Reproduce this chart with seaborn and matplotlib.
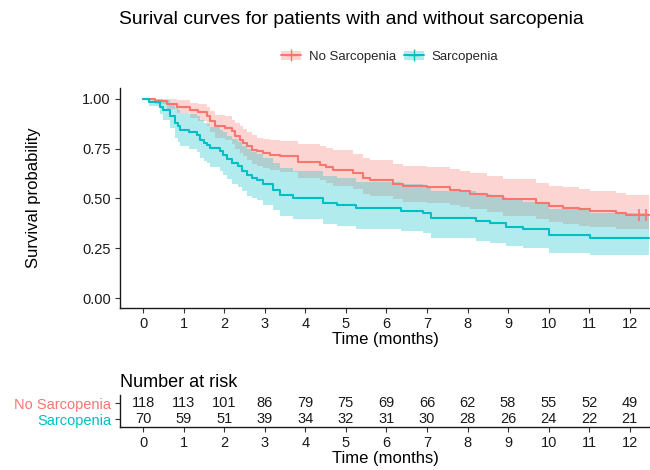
import numpy as np
import pandas as pd
import matplotlib.pyplot as plt
import seaborn as sns
from matplotlib.patches import Patch
from matplotlib.lines import Line2D

# Kaplan-Meier steps (time in months)
no_sarc_time = [0.00, 0.30, 0.58, 0.83, 1.16, 1.36, 1.57, 1.65, 1.77, 2.02, 2.18, 2.27,
                2.39, 2.47, 2.55, 2.68, 2.80, 2.96, 3.13, 3.37, 3.83, 4.36, 4.52, 4.68,
                5.18, 5.43, 5.59, 6.16, 6.41, 7.00, 7.56, 7.81, 8.05, 8.47, 8.87, 9.70,
                10.02, 10.35, 10.76, 11.01, 11.67, 11.91, 12.48]
no_sarc_surv = [1.000, 0.992, 0.975, 0.962, 0.945, 0.933, 0.912, 0.887, 0.862, 0.853, 0.837, 0.812,
                0.795, 0.778, 0.762, 0.745, 0.737, 0.728, 0.720, 0.712, 0.682, 0.670, 0.658, 0.645,
                0.628, 0.603, 0.595, 0.573, 0.562, 0.558, 0.545, 0.537, 0.525, 0.512, 0.495, 0.478,
                0.462, 0.453, 0.445, 0.437, 0.428, 0.415, 0.415]
no_sarc_lower = [1.000, 0.975, 0.948, 0.928, 0.905, 0.890, 0.862, 0.835, 0.805, 0.795, 0.775, 0.748,
                 0.730, 0.712, 0.695, 0.675, 0.662, 0.655, 0.645, 0.635, 0.605, 0.592, 0.580, 0.565,
                 0.548, 0.522, 0.512, 0.495, 0.484, 0.478, 0.465, 0.457, 0.445, 0.432, 0.412, 0.395,
                 0.380, 0.372, 0.363, 0.355, 0.348, 0.345, 0.345]
no_sarc_upper = [1.000, 1.000, 1.000, 0.995, 0.980, 0.975, 0.960, 0.940, 0.920, 0.912, 0.895, 0.880,
                 0.862, 0.848, 0.835, 0.820, 0.805, 0.800, 0.795, 0.790, 0.775, 0.762, 0.752, 0.742,
                 0.722, 0.702, 0.692, 0.675, 0.665, 0.660, 0.648, 0.640, 0.630, 0.615, 0.598, 0.580,
                 0.565, 0.557, 0.548, 0.540, 0.530, 0.520, 0.520]
no_sarc_censor = [12.24, 12.41]

sarc_time = [0.00, 0.15, 0.42, 0.50, 0.67, 0.79, 0.87, 0.91, 1.12, 1.32, 1.40, 1.49, 1.57,
             1.65, 1.90, 1.98, 2.08, 2.20, 2.33, 2.45, 2.55, 2.68, 2.82, 2.96, 3.21, 3.37,
             3.70, 4.44, 4.77, 5.26, 6.37, 6.90, 7.11, 8.22, 8.55, 8.96, 9.37, 10.02, 11.01, 12.48]
sarc_surv = [1.000, 0.985, 0.962, 0.945, 0.912, 0.878, 0.862, 0.845, 0.832, 0.820, 0.795, 0.778, 0.770,
             0.753, 0.737, 0.720, 0.700, 0.677, 0.662, 0.640, 0.620, 0.605, 0.595, 0.572, 0.545, 0.520,
             0.503, 0.478, 0.468, 0.450, 0.437, 0.428, 0.403, 0.387, 0.375, 0.358, 0.345, 0.315, 0.303, 0.303]
sarc_lower = [1.000, 0.965, 0.925, 0.895, 0.855, 0.805, 0.785, 0.765, 0.748, 0.735, 0.705, 0.690, 0.680,
              0.660, 0.640, 0.620, 0.600, 0.575, 0.560, 0.538, 0.515, 0.500, 0.490, 0.465, 0.440, 0.413,
              0.398, 0.373, 0.362, 0.345, 0.335, 0.325, 0.300, 0.288, 0.275, 0.262, 0.250, 0.225, 0.215, 0.215]
sarc_upper = [1.000, 1.000, 1.000, 0.995, 0.975, 0.955, 0.945, 0.930, 0.925, 0.915, 0.895, 0.880, 0.872,
              0.858, 0.845, 0.832, 0.815, 0.797, 0.782, 0.765, 0.748, 0.735, 0.725, 0.705, 0.680, 0.655,
              0.640, 0.612, 0.602, 0.585, 0.572, 0.562, 0.540, 0.522, 0.510, 0.495, 0.480, 0.445, 0.428, 0.428]

# Number at risk table
risk_times = [0, 1, 2, 3, 4, 5, 6, 7, 8, 9, 10, 11, 12]
risk_no_sarc = [118, 113, 101, 86, 79, 75, 69, 66, 62, 58, 55, 52, 49]
risk_sarc = [70, 59, 51, 39, 34, 32, 31, 30, 28, 26, 24, 22, 21]

groups = ["No Sarcopenia", "Sarcopenia"]
colors = {"No Sarcopenia": "#F8766D", "Sarcopenia": "#00BFC4"}

sns.set_theme(style="ticks")
plt.rcParams['font.family'] = ['Liberation Sans', 'DejaVu Sans']

km = pd.concat([
    pd.DataFrame({"time": no_sarc_time, "surv": no_sarc_surv, "lower": no_sarc_lower,
                  "upper": no_sarc_upper, "group": groups[0]}),
    pd.DataFrame({"time": sarc_time, "surv": sarc_surv, "lower": sarc_lower,
                  "upper": sarc_upper, "group": groups[1]}),
])

fig = plt.figure(figsize=(6.5, 4.7), dpi=100)
W, H = 650, 470
ax = fig.add_axes([120 / W, 1 - 308 / H, 530 / W, 220 / H])
tab = fig.add_axes([120 / W, 1 - 427 / H, 530 / W, 32 / H])

xlim = (-0.57, 12.5)

# confidence bands
for g in groups:
    d = km[km.group == g]
    ax.fill_between(d.time, d.lower, d.upper, step="post", color=colors[g],
                    alpha=0.3, linewidth=0)

sns.lineplot(data=km, x="time", y="surv", hue="group", palette=colors,
             estimator=None, drawstyle="steps-post", linewidth=1.5,
             legend=False, ax=ax)

ax.plot(no_sarc_censor, [no_sarc_surv[-1]] * len(no_sarc_censor), "+",
        color=colors[groups[0]], markersize=8, markeredgewidth=1.2)

ax.set_xlim(*xlim)
ax.set_ylim(-0.05, 1.055)
ax.set_xticks(risk_times)
ax.set_yticks([0, 0.25, 0.5, 0.75, 1.0])
ax.set_yticklabels(["0.00", "0.25", "0.50", "0.75", "1.00"])
ax.set_xlabel("Time (months)", fontsize=12, labelpad=1, color="black")
ax.set_ylabel("Survival probability", fontsize=12, labelpad=30, color="black")
for a in (ax, tab):
    a.tick_params(labelsize=10.5, length=3.5, width=0.8, colors="#333333",
                  labelcolor="#1a1a1a", pad=3)
    for s in ("top", "right"):
        a.spines[s].set_visible(False)
    for s in ("left", "bottom"):
        a.spines[s].set_color("#1a1a1a")
        a.spines[s].set_linewidth(1.0)

# risk table
for i, (g, vals) in enumerate([(groups[0], risk_no_sarc), (groups[1], risk_sarc)]):
    yrow = 2 - i
    for t, v in zip(risk_times, vals):
        tab.text(t, yrow, str(v), ha="center", va="center", fontsize=10.5, color="#1a1a1a")
tab.set_xlim(*xlim)
tab.set_ylim(0.5, 2.5)
tab.set_xticks(risk_times)
tab.set_yticks([2, 1])
tab.set_yticklabels(groups)
for lbl, g in zip(tab.get_yticklabels(), groups):
    lbl.set_color(colors[g])
tab.set_xlabel("Time (months)", fontsize=12, labelpad=1, color="black")
tab.set_title("Number at risk", loc="left", fontsize=13, pad=6, color="black")

fig.suptitle("Surival curves for patients with and without sarcopenia",
             x=351 / W, y=1 - 11 / H, fontsize=13.9, va="top", color="black")

handles = [(Patch(facecolor=colors[g], alpha=0.3, edgecolor="none"),
            Line2D([], [], color=colors[g], marker="+", markersize=8, linewidth=1.4))
           for g in groups]
fig.legend(handles, groups, loc="center", bbox_to_anchor=(390 / W, 1 - 57 / H),
           ncol=2, frameon=False, fontsize=9.5, handlelength=1.5, handletextpad=0.6,
           columnspacing=0.6)

plt.savefig("out.png", dpi=100)
plt.close()
